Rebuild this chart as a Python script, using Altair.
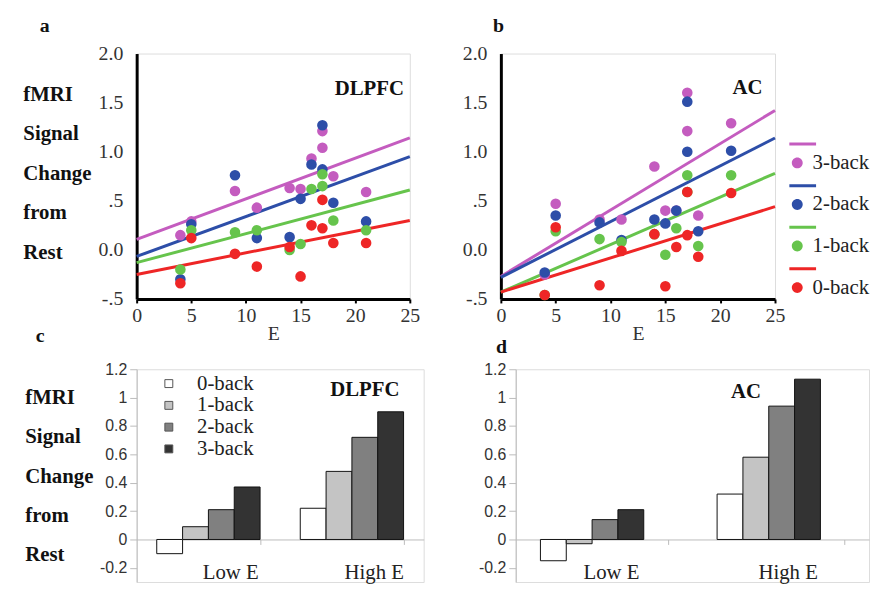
import altair as alt
import pandas as pd

# ---------------- data ----------------
E_VALUES = [4, 5, 9, 11, 14, 15, 16, 17, 17, 18, 21]
SCATTER_BACKS = ["3-back", "2-back", "1-back", "0-back"]

DLPFC_3 = [0.15, 0.29, 0.60, 0.43, 0.63, 0.62, 0.93, 1.21, 1.04, 0.75, 0.59]
DLPFC_2 = [-0.30, 0.26, 0.76, 0.12, 0.13, 0.52, 0.87, 1.27, 0.82, 0.48, 0.29]
DLPFC_1 = [-0.20, 0.20, 0.18, 0.20, 0.00, 0.06, 0.62, 0.77, 0.65, 0.30, 0.20]
DLPFC_0 = [-0.34, 0.12, -0.04, -0.17, 0.03, -0.27, 0.25, 0.51, 0.22, 0.07, 0.07]

AC_3 = [-0.25, 0.47, 0.31, 0.31, 0.85, 0.40, 0.40, 1.60, 1.21, 0.35, 1.29]
AC_2 = [-0.23, 0.35, 0.28, 0.10, 0.31, 0.27, 0.40, 1.51, 1.00, 0.19, 1.01]
AC_1 = [-0.46, 0.19, 0.11, 0.08, 0.16, -0.05, 0.22, 0.76, 0.59, 0.04, 0.76]
AC_0 = [-0.46, 0.23, -0.36, -0.01, 0.16, -0.37, 0.03, 0.59, 0.15, -0.07, 0.58]

# fitted lines: value at E=0 and at E=25 (3-back, 2-back, 1-back, 0-back)
LINE_E = [0, 25]
DLPFC_LINE_0 = [0.107, -0.067, -0.13, -0.25]
DLPFC_LINE_25 = [1.14, 0.95, 0.61, 0.30]
AC_LINE_0 = [-0.27, -0.28, -0.43, -0.43]
AC_LINE_25 = [1.42, 1.14, 0.78, 0.44]

BAR_GROUPS = ["Low E", "High E"]
BAR_BACKS = ["0-back", "1-back", "2-back", "3-back"]
DLPFC_LOW = [-0.10, 0.09, 0.21, 0.37]
DLPFC_HIGH = [0.22, 0.48, 0.72, 0.90]
AC_LOW = [-0.15, -0.03, 0.14, 0.21]
AC_HIGH = [0.32, 0.58, 0.94, 1.13]

SCAT_COLORS = ["#c45cbf", "#2d4ea8", "#66c44c", "#ee2626"]
BAR_FILLS = ["#ffffff", "#c4c4c4", "#808080", "#333333"]
SERIF = "Liberation Serif"
SANS = "Liberation Sans"
Y_TITLE = ["fMRI", "Signal", "Change", "from", "Rest"]


def scatter_frames(series, l0, l25):
    pts = []
    for back, vals in zip(SCATTER_BACKS, series):
        for e, v in zip(E_VALUES, vals):
            pts.append({"back": back, "E": e, "v": v})
    lines = []
    for back, a, b in zip(SCATTER_BACKS, l0, l25):
        lines.append({"back": back, "E": LINE_E[0], "v": a})
        lines.append({"back": back, "E": LINE_E[1], "v": b})
    return pd.DataFrame(pts), pd.DataFrame(lines)


LEGEND_PATH = ("M-1.6,-4.1 H3.8 V-3.5 H-1.6 Z "
               "M1.1,0 A1.1,1.1 0 1,1 -1.1,0 A1.1,1.1 0 1,1 1.1,0 Z")


def scatter_panel(series, l0, l25, label, lx, ly, letter, letter_dx, frame,
                  with_title, with_legend, width, height):
    pts, lines = scatter_frames(series, l0, l25)
    yaxis = dict(values=[-0.5, 0, 0.5, 1, 1.5, 2],
                 labelExpr="datum.value == 0.5 ? '.5' : datum.value == -0.5 ? '-.5' : format(datum.value, '.1f')",
                 labelFont=SERIF, labelFontSize=20, labelColor="#333",
                 labelPadding=14, tickSize=0, domainColor="#000",
                 domainWidth=3, grid=False, labelOverlap=False)
    if with_title:
        yaxis.update(title=Y_TITLE, titleAngle=0, titleAlign="left",
                     titleBaseline="top", titleX=-115, titleY=30,
                     titleFont=SERIF, titleFontSize=21, titleFontWeight="bold",
                     titleColor="#111", titleLineHeight=40)
    else:
        yaxis.update(title=None)
    x = alt.X("E:Q", scale=alt.Scale(domain=[0, 25], nice=False),
              axis=alt.Axis(values=[0, 5, 10, 15, 20, 25], title="E",
                            labelFlush=False, labelOverlap=False,
                            labelFont=SERIF, labelFontSize=20,
                            labelColor="#333", labelPadding=3, tickSize=4,
                            tickWidth=2, tickColor="#000", domainColor="#000",
                            domainWidth=3, grid=False, titleFont=SERIF,
                            titleFontSize=20, titleFontWeight="normal",
                            titleColor="#333", titlePadding=-2))
    y = alt.Y("v:Q", scale=alt.Scale(domain=[-0.5, 2.0], nice=False),
              axis=alt.Axis(**yaxis))
    cscale = alt.Scale(domain=SCATTER_BACKS, range=SCAT_COLORS)
    if with_legend:
        leg = alt.Legend(orient="none", legendX=width + 12, legendY=100,
                         title=None, symbolType=LEGEND_PATH, symbolSize=100,
                         symbolStrokeWidth=0, symbolOpacity=1,
                         labelFont=SERIF, labelFontSize=21, labelColor="#222",
                         labelOffset=5, rowPadding=11)
    else:
        leg = None
    line_layer = alt.Chart(lines).mark_line(strokeWidth=3).encode(
        x=x, y=y, color=alt.Color("back:N", scale=cscale, legend=leg))
    pt_layer = alt.Chart(pts).mark_circle(size=115, opacity=1).encode(
        x=x, y=y, color=alt.Color("back:N", scale=cscale, legend=leg))
    txt = alt.Chart(pd.DataFrame({"E": [lx], "v": [ly], "t": [label]})).mark_text(
        font=SERIF, fontSize=21, fontWeight="bold", color="#111").encode(
        x=x, y=y, text="t:N")
    return alt.layer(line_layer, pt_layer, txt).properties(
        width=width, height=height,
        title=alt.TitleParams(letter, anchor="start", frame=frame, dx=letter_dx,
                              font=SERIF, fontSize=20, fontWeight="bold",
                              color="#111", offset=8))


def bar_panel(low, high, label, label_dx, label_y, letter, letter_dx, frame,
              title_offset, with_title, with_legend, width, height, lab_off):
    rows = []
    for grp, vals in zip(BAR_GROUPS, [low, high]):
        for back, v in zip(BAR_BACKS, vals):
            rows.append({"grp": grp, "back": back, "v": v})
    df = pd.DataFrame(rows)
    zero_offset = -round(height * 0.3 / 1.5)
    x = alt.X("grp:N", sort=BAR_GROUPS,
              scale=alt.Scale(paddingInner=0.28, paddingOuter=0.14),
              axis=alt.Axis(title=None, labelAngle=0, offset=zero_offset,
                            labelFont=SERIF, labelFontSize=21, labelColor="#222",
                            labelPadding=17, labelOffset=lab_off,
                            labelOverlap=False,
                            domainColor="#bbb", tickColor="#bbb", tickSize=5,
                            tickBand="extent", grid=False))
    yaxis = dict(values=[-0.2, 0, 0.2, 0.4, 0.6, 0.8, 1.0, 1.2],
                 labelExpr="'' + round(datum.value * 10) / 10",
                 labelFont=SANS, labelFontSize=16, labelColor="#333",
                 labelPadding=3, tickSize=7, tickColor="#bbb",
                 domainColor="#bbb", grid=False, labelOverlap=False)
    if with_title:
        yaxis.update(title=Y_TITLE, titleAngle=0, titleAlign="left",
                     titleBaseline="top", titleX=-113, titleY=18,
                     titleFont=SERIF, titleFontSize=21, titleFontWeight="bold",
                     titleColor="#111", titleLineHeight=39.5)
    else:
        yaxis.update(title=None)
    y = alt.Y("v:Q", scale=alt.Scale(domain=[-0.3, 1.2], nice=False),
              axis=alt.Axis(**yaxis))
    fscale = alt.Scale(domain=BAR_BACKS, range=BAR_FILLS)
    if with_legend:
        leg = alt.Legend(orient="none", legendX=22, legendY=4, title=None,
                         symbolType="square", symbolSize=64,
                         symbolStrokeColor="#555", symbolStrokeWidth=1,
                         labelFont=SERIF, labelFontSize=21, labelColor="#222",
                         labelOffset=18, rowPadding=0)
    else:
        leg = None
    bars = alt.Chart(df).mark_bar(stroke="#111", strokeWidth=1).encode(
        x=x,
        xOffset=alt.XOffset("back:N", sort=BAR_BACKS,
                            scale=alt.Scale(paddingInner=0, paddingOuter=0)),
        y=y,
        fill=alt.Fill("back:N", scale=fscale, legend=leg))
    txt = alt.Chart(pd.DataFrame({"grp": ["High E"], "v": [label_y], "t": [label]})).mark_text(
        font=SERIF, fontSize=21, fontWeight="bold", color="#111", dx=label_dx).encode(
        x=x, y=y, text="t:N")
    return alt.layer(bars, txt).properties(
        width=width, height=height,
        title=alt.TitleParams(letter, anchor="start", frame=frame, dx=letter_dx,
                              font=SERIF, fontSize=20, fontWeight="bold",
                              color="#111", offset=title_offset))


pa = scatter_panel([DLPFC_3, DLPFC_2, DLPFC_1, DLPFC_0], DLPFC_LINE_0, DLPFC_LINE_25,
                   "DLPFC", 21.3, 1.64, "a", 17, "bounds", True, False, 276, 248)
pb = scatter_panel([AC_3, AC_2, AC_1, AC_0], AC_LINE_0, AC_LINE_25,
                   "AC", 22.5, 1.65, "b", -8, "group", False, True, 277, 248)
pc = bar_panel(DLPFC_LOW, DLPFC_HIGH, "DLPFC", 13, 1.05, "c", 11, "bounds", 16,
               True, True, 290, 215, 22)
pd_ = bar_panel(AC_LOW, AC_HIGH, "AC", -35, 1.04, "d", -20, "group", 4,
                False, False, 357, 215, 7)

row1 = alt.hconcat(pa, pb, spacing=41).resolve_scale(color="independent")
row2 = alt.hconcat(pc, pd_, spacing=53).resolve_scale(fill="independent")

chart = alt.vconcat(row1, row2, spacing=-20).resolve_scale(
    color="independent", fill="independent").properties(
    padding={"left": 14, "top": 4, "right": 0, "bottom": 0}
).configure_view(stroke=None).configure(background="white")

chart.save("out.html", embed_options={"renderer": "svg", "actions": False})
